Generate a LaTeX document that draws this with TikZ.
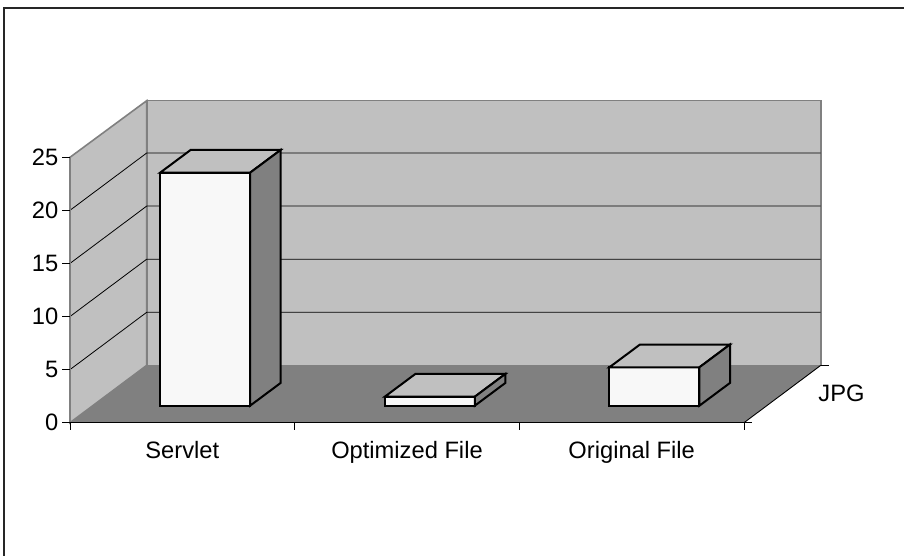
\documentclass[tikz,border=0pt]{standalone}
\usepackage{fontspec}
\setmainfont{Liberation Sans}
\definecolor{wallc}{HTML}{C0C0C0}
\definecolor{floorc}{HTML}{808080}
\definecolor{edgec}{HTML}{808080}
\definecolor{frontc}{HTML}{F8F8F8}
\definecolor{topc}{HTML}{C0C0C0}
\definecolor{sidec}{HTML}{808080}
\newcommand\drawbar[2]{% #1 = left x of front face, #2 = top y
  \filldraw[barline, fill=frontc] (#1,#2) rectangle (#1+90,405.7);
  \filldraw[barline, fill=topc] (#1,#2) -- (#1+30.6,#2-22.8) -- (#1+120.6,#2-22.8) -- (#1+90,#2) -- cycle;
  \filldraw[barline, fill=sidec] (#1+90,#2) -- (#1+120.6,#2-22.8) -- (#1+120.6,382.9) -- (#1+90,405.7) -- cycle;
}
\begin{document}
\begin{tikzpicture}[x=1bp,y=-1bp,
  lbl/.style={font=\fontsize{23.7bp}{28bp}\selectfont, inner sep=0pt},
  wall/.style={fill=wallc, draw=edgec, line width=1.6bp},
  gridl/.style={black, line width=0.8bp},
  axisl/.style={black, line width=0.9bp},
  barline/.style={draw=black, line width=2bp, line join=miter}]
\useasboundingbox (0,0) rectangle (904,556);
\fill[white] (0,0) rectangle (904,556);
\draw[line width=1.4bp, black!85] (4,556) -- (4,8) -- (904,8);
% walls and floor
\draw[wall] (146.7,100.7) rectangle (820.7,365.4);
\draw[wall] (70,157.3) -- (146.7,100.7) -- (146.7,365.4) -- (70,422.7) -- cycle;
\fill[floorc] (70,422.7) -- (146.7,365.4) -- (820.7,365.4) -- (744,422.7) -- cycle;
% gridlines
\foreach \v in {5,10,15,20} {
  \pgfmathsetmacro\fy{422.7-\v*10.62}
  \pgfmathsetmacro\by{\fy-57.3}
  \draw[gridl] (70,\fy) -- (146.7,\by) -- (820.7,\by);
}
% value axis
\draw[edgec, line width=0.9bp] (70,157.3) -- (70,422.7);
\foreach \v/\nm in {0/a,5/b,10/c,15/d,20/e,25/f} {
  \pgfmathsetmacro\fy{422.7-\v*10.62}
  \draw[axisl] (62,\fy) -- (70,\fy);
  \node[lbl, anchor=east] (y\nm) at (58.5,\fy) {\v};
}
% category axis
\draw[axisl] (70,422.7) -- (744,422.7);
\foreach \x in {70,294.7,519.3,744} \draw[axisl] (\x,422.7) -- (\x,430);
% depth axis
\draw[axisl] (744,422.7) -- (820.7,365.4);
\draw[axisl] (744,422.7) -- (752,422.7);
\draw[axisl] (820.7,365.4) -- (828.7,365.4);
% bars
\drawbar{160.1}{172.7}
\drawbar{384.8}{396.7}
\drawbar{609.4}{367.3}
% labels
\node[lbl, anchor=base] (cat1) at (182.3,458) {Servlet};
\node[lbl, anchor=base] (cat2) at (407,458) {Optimized File};
\node[lbl, anchor=base] (cat3) at (631.7,458) {Original File};
\node[lbl, anchor=base] (ser) at (841.5,401.3) {JPG};
\end{tikzpicture}
\end{document}
